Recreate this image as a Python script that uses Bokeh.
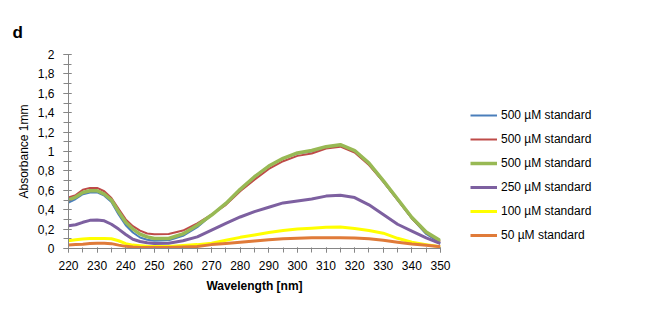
from bokeh.plotting import figure
from bokeh.models import (Range1d, SingleIntervalTicker, CustomJSTickFormatter,
                          Legend, LegendItem)
from bokeh.embed import file_html
from bokeh.resources import INLINE

wavelength = [220, 222.5, 225, 227.5, 230, 232.5, 235, 237.5, 240, 242.5, 245, 247.5,
              250, 255, 260, 265, 270, 275, 280, 285, 290, 295, 300, 305, 310, 315,
              320, 325, 330, 335, 340, 345, 350]

std500_a = [0.474, 0.51, 0.56, 0.578, 0.578, 0.545, 0.48, 0.35, 0.24, 0.165, 0.113, 0.09,
            0.08, 0.085, 0.13, 0.22, 0.345, 0.465, 0.61, 0.74, 0.85, 0.93, 0.98, 1.0,
            1.045, 1.065, 1.0, 0.87, 0.69, 0.50, 0.31, 0.15, 0.055]
std500_b = [0.526, 0.55, 0.605, 0.625, 0.625, 0.59, 0.52, 0.41, 0.30, 0.23, 0.185, 0.155,
            0.148, 0.15, 0.185, 0.26, 0.35, 0.45, 0.59, 0.71, 0.82, 0.90, 0.955, 0.98,
            1.03, 1.05, 0.99, 0.86, 0.69, 0.50, 0.31, 0.16, 0.07]
std500_c = [0.50, 0.53, 0.577, 0.595, 0.595, 0.56, 0.50, 0.38, 0.27, 0.20, 0.148, 0.12,
            0.103, 0.103, 0.15, 0.24, 0.345, 0.465, 0.61, 0.74, 0.85, 0.93, 0.985, 1.01,
            1.05, 1.07, 1.01, 0.88, 0.70, 0.51, 0.32, 0.17, 0.08]
std250 = [0.234, 0.245, 0.27, 0.29, 0.293, 0.285, 0.25, 0.20, 0.145, 0.095, 0.072, 0.06,
          0.052, 0.055, 0.08, 0.12, 0.19, 0.26, 0.325, 0.38, 0.425, 0.47, 0.49, 0.51,
          0.54, 0.55, 0.525, 0.45, 0.35, 0.25, 0.18, 0.11, 0.05]
std100 = [0.079, 0.09, 0.097, 0.103, 0.103, 0.103, 0.10, 0.08, 0.05, 0.035, 0.028, 0.022,
          0.02, 0.02, 0.03, 0.04, 0.055, 0.085, 0.115, 0.14, 0.165, 0.185, 0.20, 0.21,
          0.22, 0.222, 0.205, 0.185, 0.158, 0.105, 0.065, 0.04, 0.018]
std50 = [0.035, 0.04, 0.045, 0.052, 0.055, 0.055, 0.05, 0.035, 0.022, 0.015, 0.01, 0.01,
         0.01, 0.01, 0.015, 0.02, 0.04, 0.052, 0.065, 0.078, 0.09, 0.10, 0.105, 0.11,
         0.112, 0.112, 0.108, 0.10, 0.085, 0.065, 0.047, 0.033, 0.018]

series_names = ["500 µM standard", "500 µM standard", "500 µM standard",
                "250 µM standard", "100 µM standard", "50 µM standard"]
series_values = [std500_a, std500_b, std500_c, std250, std100, std50]
series_colors = ["#4A7EBB", "#BE4B48", "#98B954", "#7D60A0", "#FFFF00", "#E07B39"]
series_widths = [2, 2, 3.5, 3, 3, 3]

FONT = "Liberation Sans"

p = figure(frame_width=372, frame_height=194, output_backend="svg", toolbar_location=None,
           x_range=Range1d(220, 350), y_range=Range1d(0, 2),
           min_border_left=68, min_border_right=222, min_border_top=54,
           min_border_bottom=75, title="d")
p.outline_line_color = None
p.xgrid.visible = False
p.ygrid.visible = False
p.background_fill_color = "white"
p.border_fill_color = "white"

p.title.text_font = FONT
p.title.text_font_size = "17px"
p.title.text_font_style = "bold"
p.title.text_color = "black"
p.title.align = "left"
p.title.offset = -56
p.title.standoff = 26

items = []
for name, vals, col, w in zip(series_names, series_values, series_colors, series_widths):
    r = p.line(wavelength, vals, line_color=col, line_width=w, line_join="round")
    items.append(LegendItem(label=name, renderers=[r]))

legend = Legend(items=items, location=(30, 3), glyph_width=27, glyph_height=20,
                label_height=20, spacing=4, label_standoff=4, padding=0, margin=0,
                border_line_color=None, background_fill_alpha=0,
                label_text_font=FONT, label_text_font_size="12px",
                label_text_color="black")
p.add_layout(legend, "right")

# axes
ax_col = "#868686"
xa = p.xaxis[0]
xa.ticker = SingleIntervalTicker(interval=10, num_minor_ticks=2)
xa.axis_line_color = ax_col
xa.major_tick_line_color = ax_col
xa.minor_tick_line_color = ax_col
xa.major_tick_in = 1
xa.major_tick_out = 4
xa.minor_tick_in = 1
xa.minor_tick_out = 4
xa.major_label_standoff = 8
xa.major_label_text_font = FONT
xa.major_label_text_font_size = "12px"
xa.major_label_text_color = "black"
xa.axis_label = "Wavelength [nm]"
xa.axis_label_text_font = FONT
xa.axis_label_text_font_size = "12px"
xa.axis_label_text_font_style = "bold"
xa.axis_label_text_color = "black"
xa.axis_label_standoff = 6

ya = p.yaxis[0]
ya.ticker = SingleIntervalTicker(interval=0.2, num_minor_ticks=2)
ya.formatter = CustomJSTickFormatter(
    code="const s = (Math.round(tick*10)/10).toString(); return s.replace('.', ',');")
ya.axis_line_color = ax_col
ya.major_tick_line_color = ax_col
ya.minor_tick_line_color = ax_col
ya.major_tick_in = 3
ya.major_tick_out = 5
ya.minor_tick_in = 3
ya.minor_tick_out = 5
ya.major_label_standoff = 9
ya.major_label_text_font = FONT
ya.major_label_text_font_size = "12px"
ya.major_label_text_color = "black"
ya.axis_label = "Absorbance 1mm"
ya.axis_label_text_font = FONT
ya.axis_label_text_font_size = "12px"
ya.axis_label_text_font_style = "normal"
ya.axis_label_text_color = "black"
ya.axis_label_standoff = 4

open("out.html", "w").write(file_html(p, INLINE))
